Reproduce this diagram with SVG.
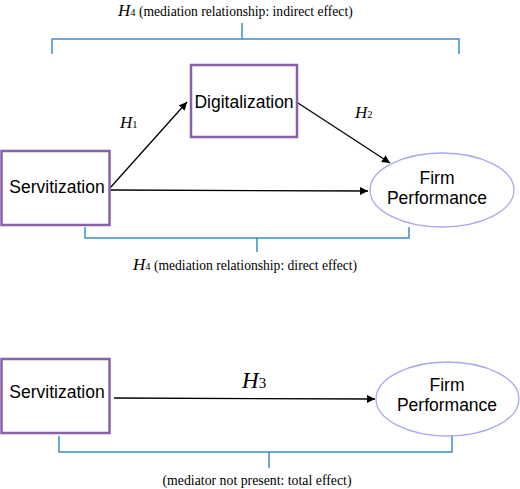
<svg xmlns="http://www.w3.org/2000/svg" width="520" height="489" viewBox="0 0 520 489">
<style>
.box{fill:#fff;stroke:#8a5fa8;stroke-width:2.5}
.ell{fill:#fff;stroke:#a8a8f0;stroke-width:1.3}
.lbl{font-family:"Liberation Sans",Arial,sans-serif;font-size:17.5px;fill:#000;text-anchor:middle}
.ser{font-family:"Liberation Serif","Times New Roman",serif;fill:#000}
.br{fill:none;stroke:#3a8fd0;stroke-width:1.5}
.ar{stroke:#000;stroke-width:1.3;fill:none;marker-end:url(#ah)}
</style>
<defs>
<marker id="ah" viewBox="0 0 10 10" refX="10" refY="5" markerWidth="8" markerHeight="8" markerUnits="userSpaceOnUse" orient="auto">
<path d="M0,0 L10,5 L0,10 z" fill="#000"/>
</marker>
</defs>
<rect width="520" height="489" fill="#fff"/>
<g id="brackets">
<path class="br" d="M52,54 V39 H459 V54 M242,23 V39"/>
<path class="br" d="M85,227 V238 H409 V227 M257,238 V252"/>
<path class="br" d="M59,436 V452 H452 V436 M269,452 V468"/>
</g>
<g id="connectors">
<line class="ar" x1="110" y1="188" x2="187" y2="102"/>
<line class="ar" x1="298" y1="103" x2="390" y2="163"/>
<line class="ar" x1="110" y1="190" x2="368" y2="191"/>
<line class="ar" x1="114" y1="398" x2="375" y2="399"/>
</g>
<g id="labels">
<text class="ser" x="118" y="16"><tspan font-style="italic" font-size="17">H</tspan><tspan font-size="10.5">4</tspan><tspan font-size="13.6"> (mediation relationship: indirect effect)</tspan></text>
<text class="ser" x="120" y="128"><tspan font-style="italic" font-size="17">H</tspan><tspan font-size="10.5">1</tspan></text>
<text class="ser" x="355" y="118"><tspan font-style="italic" font-size="17">H</tspan><tspan font-size="10.5">2</tspan></text>
<text class="ser" x="133" y="270"><tspan font-style="italic" font-size="17">H</tspan><tspan font-size="10.5">4</tspan><tspan font-size="13.6"> (mediation relationship: direct effect)</tspan></text>
<text class="ser" x="242" y="388"><tspan font-style="italic" font-size="23">H</tspan><tspan font-size="15">3</tspan></text>
<text class="ser" x="257" y="485" font-size="13.8" text-anchor="middle">(mediator not present: total effect)</text>
</g>
<g id="digitalization">
<rect class="box" x="191" y="65" width="106" height="72"/>
<text class="lbl" x="244" y="108">Digitalization</text>
</g>
<g id="servitization1">
<rect class="box" x="1.5" y="151" width="108" height="74"/>
<text class="lbl" x="57" y="193">Servitization</text>
</g>
<g id="firm1">
<ellipse class="ell" cx="442" cy="190" rx="72" ry="37"/>
<text class="lbl" x="437" y="184">Firm</text>
<text class="lbl" x="437" y="204">Performance</text>
</g>
<g id="servitization2">
<rect class="box" x="1.5" y="359" width="108" height="74"/>
<text class="lbl" x="57" y="398">Servitization</text>
</g>
<g id="firm2">
<ellipse class="ell" cx="447.5" cy="399" rx="71.5" ry="37"/>
<text class="lbl" x="447" y="391">Firm</text>
<text class="lbl" x="447" y="411">Performance</text>
</g>
</svg>
